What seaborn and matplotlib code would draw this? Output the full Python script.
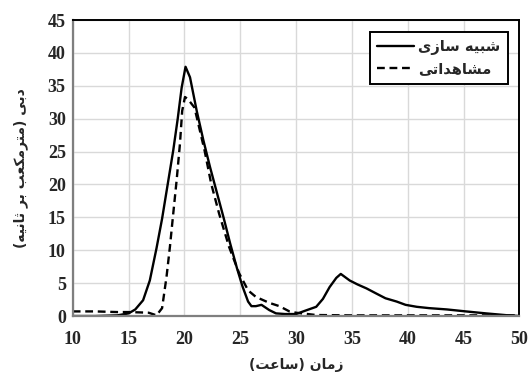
import numpy as np
import pandas as pd
import matplotlib.pyplot as plt
import seaborn as sns

sns.set_style('whitegrid')
plt.rcParams['font.family'] = ['Liberation Serif', 'DejaVu Sans']

# simulated hydrograph (solid)
sim_t = [10, 12, 14, 15, 15.6, 16.3, 16.9, 17.5, 18.0, 18.5, 19.0, 19.4, 19.75, 20.1,
         20.5, 21.1, 21.7, 22.3, 22.9, 23.5, 24.1, 24.7, 25.2, 25.7, 26.0, 26.4, 26.9,
         27.6, 28.2, 29.0, 30.0, 30.8, 31.8, 32.4, 33.0, 33.6, 34.0, 34.8, 35.5, 36.3,
         37.2, 38.0, 39.0, 39.8, 40.8, 41.9, 43.5, 45.2, 47.0, 49.0, 50]
sim_q = [0.0, 0.0, 0.1, 0.4, 1.0, 2.4, 5.4, 10.3, 14.8, 20.0, 25.2, 30.0, 34.7, 37.9,
         36.3, 31.2, 26.7, 22.6, 18.8, 15.0, 11.0, 7.3, 4.5, 2.2, 1.5, 1.5, 1.7,
         0.9, 0.4, 0.3, 0.3, 0.8, 1.4, 2.6, 4.4, 5.8, 6.4, 5.4, 4.8, 4.2,
         3.4, 2.7, 2.2, 1.7, 1.4, 1.2, 1.0, 0.7, 0.4, 0.1, 0.0]

# observed hydrograph (dashed)
obs_t = [10, 12, 14, 15, 16, 16.8, 17.5, 18.0, 18.4, 18.7, 19.0, 19.3, 19.6, 19.8,
         20.05, 20.3, 20.9, 21.8, 22.4, 23.1, 24.0, 24.9, 25.7, 26.4, 27.6, 28.5,
         29.4, 30.0, 31.8, 35, 40, 45, 50]
obs_q = [0.7, 0.7, 0.6, 0.6, 0.55, 0.5, 0.1, 1.2, 6.0, 10.5, 15.6, 20.6, 26.2, 31.2,
         33.3, 33.0, 31.7, 25.2, 20.1, 15.6, 10.5, 6.5, 3.9, 2.9, 2.0, 1.5,
         0.7, 0.5, 0.15, 0.1, 0.1, 0.1, 0.1]

x_ticks = [10, 15, 20, 25, 30, 35, 40, 45, 50]
y_ticks = [0, 5, 10, 15, 20, 25, 30, 35, 40, 45]

sim_label = 'شبیه سازی'
obs_label = 'مشاهداتی'
x_label = 'زمان (ساعت)'
y_label = 'دبی (مترمکعب بر ثانیه)'

# matplotlib has no arabic shaping, so pick presentation forms by hand
FORMS = {
    'ا': '\uFE8D\uFE8E',
    'ب': '\uFE8F\uFE90\uFE91\uFE92',
    'ت': '\uFE95\uFE96\uFE97\uFE98',
    'ث': '\uFE99\uFE9A\uFE9B\uFE9C',
    'د': '\uFEA9\uFEAA',
    'ر': '\uFEAD\uFEAE',
    'ز': '\uFEAF\uFEB0',
    'س': '\uFEB1\uFEB2\uFEB3\uFEB4',
    'ش': '\uFEB5\uFEB6\uFEB7\uFEB8',
    'ع': '\uFEC9\uFECA\uFECB\uFECC',
    'ک': '\uFB8E\uFB8F\uFB90\uFB91',
    'م': '\uFEE1\uFEE2\uFEE3\uFEE4',
    'ن': '\uFEE5\uFEE6\uFEE7\uFEE8',
    'ه': '\uFEE9\uFEEA\uFEEB\uFEEC',
    'ی': '\uFBFC\uFBFD\uFBFE\uFBFF',
}


def fa(s):
    out = []
    for i, c in enumerate(s):
        if c not in FORMS:
            out.append(c)
            continue
        f = FORMS[c]
        prev = s[i - 1] if i > 0 else ''
        nxt = s[i + 1] if i + 1 < len(s) else ''
        join_prev = prev in FORMS and len(FORMS[prev]) == 4
        join_next = len(f) == 4 and nxt in FORMS
        if join_prev and join_next:
            out.append(f[3])
        elif join_prev:
            out.append(f[1])
        elif join_next:
            out.append(f[2])
        else:
            out.append(f[0])
    vis = ''.join(reversed(out))
    return vis.translate(str.maketrans('()', ')('))


fig, ax = plt.subplots(figsize=(5.29, 3.72), dpi=100)
fig.subplots_adjust(left=0.1375, right=0.982, bottom=0.1505, top=0.946)

sns.lineplot(x=sim_t, y=sim_q, ax=ax, color='black', linewidth=1.7, label=fa(sim_label))
sns.lineplot(x=obs_t, y=obs_q, ax=ax, color='black', linewidth=1.7,
             linestyle=(0, (3.3, 2.0)), label=fa(obs_label))

ax.set_xlim(10, 50)
ax.set_ylim(0, 45)
ax.set_xticks(x_ticks)
ax.set_yticks(y_ticks)
ax.grid(True, color='#d9d9d9', linewidth=1.0)
ax.tick_params(length=0, labelsize=13)
ax.tick_params(axis='x', pad=11)
ax.tick_params(axis='y', pad=5)
for lab in ax.get_xticklabels() + ax.get_yticklabels():
    lab.set_fontweight('bold')

for side in ['left', 'bottom']:
    ax.spines[side].set_color('#7f7f7f')
    ax.spines[side].set_linewidth(1.6)
for side in ['top', 'right']:
    ax.spines[side].set_color('black')
    ax.spines[side].set_linewidth(1.4)

ax.set_xlabel(fa(x_label), family=['DejaVu Sans'], fontweight='bold', fontsize=10, labelpad=7)
ax.set_ylabel(fa(y_label), family=['DejaVu Sans'], fontweight='bold', fontsize=10, labelpad=14)

leg = ax.legend(loc='upper right', bbox_to_anchor=(0.983, 0.976), fancybox=False,
                framealpha=1, edgecolor='black', handlelength=2.5, handletextpad=0.3,
                prop={'family': 'DejaVu Sans', 'weight': 'bold', 'size': 10.5},
                borderpad=0.5, labelspacing=0.45, borderaxespad=0.3)
leg.get_frame().set_linewidth(1.4)

fig.savefig('out.png', dpi=100)
